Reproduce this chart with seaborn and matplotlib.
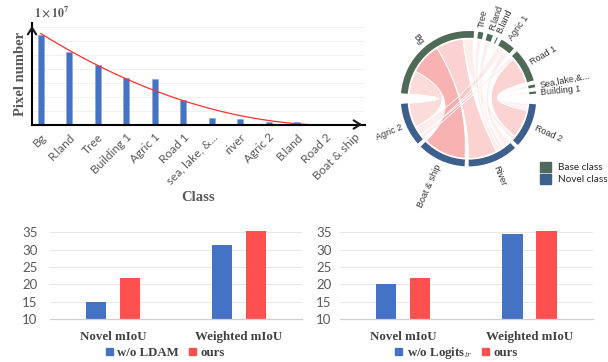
import numpy as np
import pandas as pd
import matplotlib
matplotlib.use("Agg")
import matplotlib.pyplot as plt
import seaborn as sns
from matplotlib.path import Path
from matplotlib.patches import PathPatch, Wedge, Patch, Rectangle

# ---------------- data: class pixel distribution (x 1e7) ----------------
classes = ["Bg", "R.land", "Tree", "Building 1", "Agric 1", "Road 1",
           "sea, lake, &...", "river", "Agric 2", "B.land", "Road 2", "Boat & ship"]
pixels_1e7 = [6.39, 5.15, 4.27, 3.32, 3.23, 1.77, 0.46, 0.39, 0.20, 0.18, 0.03, 0.02]

# ---------------- data: chord diagram ----------------
seg_names = ["Bg", "Tree", "R.land", "B.land", "Agric 1", "Road 1", "Sea,lake,&...",
             "Building 1", "Road 2", "River", "Boat & ship", "Agric 2"]
seg_group = ["Base class"] * 8 + ["Novel class"] * 4
seg_sizes = [91, 4.5, 5, 1, 13, 29, 2.5, 2, 38.7, 43.6, 42, 37.5]
chord_base = ["Bg", "Bg", "Bg", "Bg", "Tree", "R.land", "B.land", "Agric 1", "Agric 1",
              "Road 1", "Road 1", "Sea,lake,&...", "Building 1"]
chord_novel = ["Agric 2", "Boat & ship", "River", "Road 2", "River", "River", "River",
               "River", "Agric 2", "Agric 2", "Road 2", "Road 2", "Road 2"]
chord_w_base = [23, 31, 27, 10, 4.5, 5, 1, 6, 7, 3, 26, 2.5, 2]
chord_w_novel = [24, 42, 28, 4, 4, 4, 1.6, 6, 9.5, 4, 28, 3.5, 3.2]

# ---------------- data: ablations ----------------
metrics = ["Novel mIoU", "Weighted mIoU"]
wo_ldam = [15.0, 31.3]
wo_logits = [20.2, 34.6]
ours = [21.8, 35.3]

# ---------------- style ----------------
sns.set_theme(style="white")
plt.rcParams["font.family"] = ["Lato", "DejaVu Sans"]
plt.rcParams["mathtext.fontset"] = "stix"
SERIF = "Liberation Serif"
BLUE, RED = "#4472c4", "#ff5050"
GROUP_COL = {"Base class": "#4f6b58", "Novel class": "#3d5f8c"}

fig = plt.figure(figsize=(6.08, 3.62), dpi=100)
W, H = 608.0, 362.0

def fa(x0, y_top, x1, y_bot):
    return [x0 / W, 1 - y_bot / H, (x1 - x0) / W, (y_bot - y_top) / H]

# ---------------- top-left: pixel distribution ----------------
ax1 = fig.add_axes(fa(32, 23, 365, 124.5))
df1 = pd.DataFrame({"cls": classes, "px": pixels_1e7})
sns.barplot(data=df1, x="cls", y="px", color=BLUE, width=0.21, saturation=1,
            edgecolor="#8eaadb", linewidth=0.5, ax=ax1)
sns.regplot(x=np.arange(len(classes)), y=np.array(pixels_1e7), order=2, ci=None,
            scatter=False, color="#ff3030", line_kws={"lw": 0.9}, ax=ax1)
ax1.set_xlim(-0.305, 11.38)
ax1.set_ylim(0, 7.25)
ax1.set_yticks(range(1, 8))
ax1.yaxis.grid(True, color="#eeeeee", lw=0.6)
ax1.set_axisbelow(True)
ax1.tick_params(axis="y", length=0, labelleft=False)
ax1.set_xticks(range(len(classes)))
ax1.set_xticklabels(classes, rotation=45, ha="right", rotation_mode="anchor",
                    fontsize=8.6, color="#595959")
ax1.tick_params(axis="x", length=0, pad=5)
for s in ["top", "right"]:
    ax1.spines[s].set_visible(False)
for s in ["left", "bottom"]:
    ax1.spines[s].set_color("black")
    ax1.spines[s].set_linewidth(1.5)
ax1.annotate("", xy=(1.0, 0), xytext=(0.97, 0), xycoords="axes fraction",
             arrowprops=dict(arrowstyle="->,head_length=0.4,head_width=0.25", lw=1.5, color="k"))
ax1.annotate("", xy=(0, 1.0), xytext=(0, 0.9), xycoords="axes fraction",
             arrowprops=dict(arrowstyle="->,head_length=0.4,head_width=0.25", lw=1.5, color="k"))
ax1.set_xlabel("Class", fontfamily=SERIF, fontweight="bold", fontsize=10.5, color="#595959")
ax1.xaxis.set_label_coords(0.5, -0.66)
ax1.set_ylabel("Pixel number", fontfamily=SERIF, fontweight="bold", fontsize=10.5, color="#595959")
ax1.yaxis.set_label_coords(-0.016, 0.5)
fig.text(34 / W, 1 - 12 / H, r"$\mathbf{1\times10^{7}}$", fontsize=8.5, color="#595959", va="center")

# ---------------- top-right: chord diagram ----------------
cx, cy, R_px = 468.5, 98.7, 67.7
span = 1.5 * R_px
ax2 = fig.add_axes(fa(cx - span, cy - span, cx + span, cy + span))
ax2.set_xlim(-1.5, 1.5)
ax2.set_ylim(-1.5, 1.5)
ax2.set_aspect("equal")
ax2.axis("off")

SMALL_GAP, BIG_GAP, START = 3.5, 9.0, 175.4
n = len(seg_names)
gaps = [SMALL_GAP if seg_group[i] == seg_group[(i + 1) % n] else BIG_GAP for i in range(n)]
scale = (360 - sum(gaps)) / sum(seg_sizes)
seg_start, seg_end = [], []
ang = START
for i in range(n):
    seg_start.append(ang)
    ang = ang - seg_sizes[i] * scale
    seg_end.append(ang)
    ang -= gaps[i]
seg_mid = [(a + b) / 2 for a, b in zip(seg_start, seg_end)]
idx = {nm: i for i, nm in enumerate(seg_names)}

for i in range(n):
    ax2.add_patch(Wedge((0, 0), 1.0, seg_end[i], seg_start[i], width=0.1,
                        color=GROUP_COL[seg_group[i]], lw=0))
    m = seg_mid[i]
    x, y = 1.07 * np.cos(np.radians(m)), 1.07 * np.sin(np.radians(m))
    mm = (m + 180) % 360 - 180
    if -90 <= mm <= 90:
        rot, ha = mm, "left"
    else:
        rot, ha = mm - 180 if mm > 0 else mm + 180, "right"
    ax2.text(x, y, seg_names[i], rotation=rot, ha=ha, va="center", rotation_mode="anchor",
             fontsize=6.5, family="Liberation Sans", color="#333333")

# allocate chord ends inside segments
ends = {}
for i in range(n):
    items = []
    for k in range(len(chord_base)):
        if chord_base[k] == seg_names[i]:
            items.append((k, "b", chord_w_base[k], idx[chord_novel[k]]))
        if chord_novel[k] == seg_names[i]:
            items.append((k, "n", chord_w_novel[k], idx[chord_base[k]]))
    items.sort(key=lambda t: (seg_mid[t[3]] - seg_mid[i]) % 360)
    a = seg_start[i]
    for k, side, w, _ in items:
        ends[(k, side)] = (a, a - w * scale)
        a -= w * scale

def arc_pts(a0, a1, r, num=30):
    t = np.radians(np.linspace(a0, a1, num))
    return np.column_stack([r * np.cos(t), r * np.sin(t)])

RC = 0.88
wmean = [(a + b) / 2 for a, b in zip(chord_w_base, chord_w_novel)]
wmax = max(wmean)
for k in range(len(chord_base)):
    a0, a1 = ends[(k, "b")]
    b0, b1 = ends[(k, "n")]
    A = arc_pts(a0, a1, RC)
    B = arc_pts(b0, b1, RC)
    verts = list(A) + [(0, 0), B[0]] + list(B[1:]) + [(0, 0), A[0], A[0]]
    codes = ([Path.MOVETO] + [Path.LINETO] * (len(A) - 1) + [Path.CURVE3, Path.CURVE3]
             + [Path.LINETO] * (len(B) - 1) + [Path.CURVE3, Path.CURVE3, Path.CLOSEPOLY])
    alpha = 0.12 + 0.48 * (wmean[k] / wmax) ** 2.5
    ax2.add_patch(PathPatch(Path(verts, codes), facecolor=(0.965, 0.5, 0.5, alpha),
                            edgecolor="white", lw=0.6))

leg_h = [Patch(color=GROUP_COL[g]) for g in ["Base class", "Novel class"]]
fig.legend(leg_h, ["Base class", "Novel class"], loc="upper left",
           bbox_to_anchor=(540 / W, 1 - 162 / H), frameon=False, fontsize=7.2,
           handlelength=1.1, handleheight=1.1, handletextpad=0.7, labelspacing=0.2,
           labelcolor="#262626", borderaxespad=0, borderpad=0)

# ---------------- bottom: ablations ----------------
def ablation(box, wo_vals, wo_label, ypad, leg_x):
    ax = fig.add_axes(box)
    df = pd.DataFrame({"metric": metrics * 2, "value": list(wo_vals) + list(ours),
                       "method": [wo_label] * 2 + ["ours"] * 2})
    sns.barplot(data=df, x="metric", y="value", hue="method", palette=[BLUE, RED],
                width=0.54, gap=0.4, saturation=1, linewidth=0, legend=False, ax=ax)
    ax.set_ylim(10, 36.5)
    ax.set_xlim(-0.5, 1.5)
    ax.set_yticks([10, 15, 20, 25, 30, 35])
    ax.yaxis.grid(True, color="#e6e6e6", lw=0.7)
    ax.set_axisbelow(True)
    ax.set_xlabel("")
    ax.set_ylabel("")
    for s in ["top", "right", "left"]:
        ax.spines[s].set_visible(False)
    ax.spines["bottom"].set_color("#d0d0d0")
    ax.spines["bottom"].set_linewidth(0.9)
    ax.tick_params(axis="y", length=0, pad=ypad, labelsize=9.5, labelcolor="#595959")
    ax.tick_params(axis="x", length=0, pad=8.5)
    for t in ax.get_xticklabels():
        t.set_fontfamily(SERIF)
        t.set_fontweight("bold")
        t.set_fontsize(9.3)
        t.set_color("#404040")
    hs = [Rectangle((0, 0), 1, 1, color=BLUE), Rectangle((0, 0), 1, 1, color=RED)]
    fig.legend(hs, [wo_label, "ours"], loc="center", bbox_to_anchor=(leg_x / W, 1 - 353 / H),
               ncol=2, frameon=False, handlelength=0.55, handleheight=0.55,
               handletextpad=0.35, columnspacing=0.8, labelcolor="#404040",
               prop=dict(family=SERIF, weight="bold", size=9.3), borderaxespad=0, borderpad=0)
    return ax

ablation(fa(50, 227, 302, 319.3), wo_ldam, "w/o LDAM", 9, 165.5)
ablation(fa(340, 227, 592.7, 319.3), wo_logits, r"w/o Logits$_{tr}$", 6, 456.7)

fig.savefig("out.png", dpi=100)
